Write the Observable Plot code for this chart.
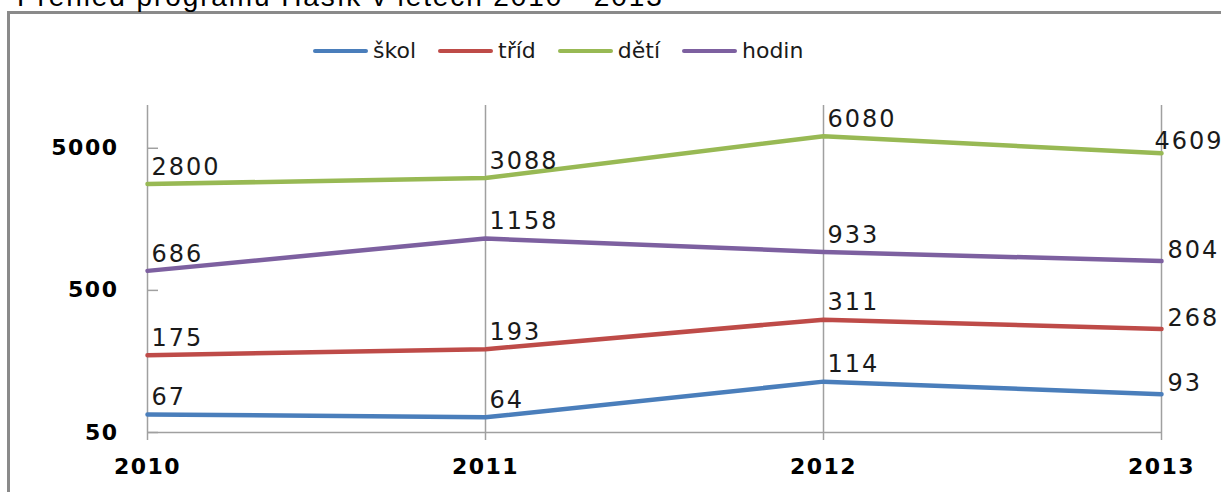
<!DOCTYPE html>
<html><head><meta charset="utf-8">
<script src="https://cdn.jsdelivr.net/npm/d3@7"></script>
<script src="https://cdn.jsdelivr.net/npm/@observablehq/plot@0.6"></script>
<style>
body{margin:0;background:#fff;overflow:hidden}
#wrap{position:relative;width:1221px;height:492px;overflow:hidden;background:#fff}
#frame{position:absolute;left:7px;top:11px;width:1400px;height:600px;border:3px solid #8a8a8a;box-sizing:border-box}
#title{position:absolute;left:17px;top:-17px;font-family:"Liberation Sans",Arial,sans-serif;font-size:28px;letter-spacing:1.9px;white-space:nowrap;line-height:28px;color:#000}
#legend{position:absolute;left:313px;top:38px;display:flex;align-items:center;font-family:"DejaVu Sans",sans-serif;font-size:22px;line-height:26px;color:#1a1a1a}
.item{display:flex;align-items:center;margin-right:22px}
.sw{width:55px;height:4px;border-radius:2px;margin-right:5px}
#chart{position:absolute;left:0;top:0}
.lbl text{letter-spacing:2px}
.ylbl text{letter-spacing:1.5px}
g[aria-label="x-axis tick label"] text{letter-spacing:1.5px}
</style>
</head><body>
<div id="wrap">
  <div id="frame"></div>
  <div id="title">Přehled programu Hasík v letech 2010 - 2013</div>
  <div id="chart"></div>
  <div id="legend"></div>
</div>
<script>
const years = [2010, 2011, 2012, 2013];
const series = ["škol", "tříd", "dětí", "hodin"];
const skol = [67, 64, 114, 93];
const trid = [175, 193, 311, 268];
const deti = [2800, 3088, 6080, 4609];
const hodin = [686, 1158, 933, 804];
const colors = ["#4A7EBB", "#BE4B48", "#98B954", "#7D60A0"];
const yTicks = [50, 500, 5000];

const valuesBySeries = [skol, trid, deti, hodin];
const data = [];
series.forEach((s, i) => years.forEach((yr, j) => data.push({series: s, year: yr, value: valuesBySeries[i][j]})));

const labelFont = "DejaVu Sans";
const lastYear = years[years.length - 1];
const topSeries = series[2];

const chart = Plot.plot({
  width: 1221,
  height: 492,
  marginTop: 105,
  marginBottom: 60,
  marginLeft: 147,
  marginRight: 60,
  style: {background: "transparent", overflow: "visible", fontFamily: labelFont},
  x: {type: "linear", domain: [2010, 2013], label: null},
  y: {type: "log", domain: [50, 10000], label: null},
  color: {domain: series, range: colors},
  marks: [
    Plot.ruleX(years, {stroke: "#a0a0a0", strokeWidth: 1.5}),
    Plot.ruleY([50], {stroke: "#a0a0a0", strokeWidth: 1.5}),
    Plot.axisX({ticks: years, tickFormat: d => String(d), label: null, tickSize: 8, tickPadding: 18, stroke: "#a0a0a0", strokeWidth: 1.5, fill: "#000", fontSize: 22, fontWeight: "bold", fontFamily: labelFont}),
    Plot.axisY({ticks: yTicks, tickFormat: () => "", label: null, tickSize: -11, stroke: "#a0a0a0", strokeWidth: 1.5}),
    Plot.text(yTicks, {y: d => d, frameAnchor: "left", dx: -29, textAnchor: "end", text: d => String(d), fill: "#000", fontSize: 22, fontWeight: "bold", fontFamily: labelFont, className: "ylbl"}),
    Plot.line(data, {x: "year", y: "value", z: "series", stroke: "series", strokeWidth: 4.5}),
    Plot.text(data.filter(d => d.year < lastYear), {x: "year", y: "value", text: d => String(d.value), textAnchor: "start", dx: 4, dy: -17, fontSize: 24, fill: "#1a1a1a", fontFamily: labelFont, className: "lbl"}),
    Plot.text(data.filter(d => d.year === lastYear && d.series !== topSeries), {x: "year", y: "value", text: d => String(d.value), textAnchor: "start", dx: 6, dy: -11, fontSize: 24, fill: "#1a1a1a", fontFamily: labelFont, className: "lbl"}),
    Plot.text(data.filter(d => d.year === lastYear && d.series === topSeries), {x: "year", y: "value", text: d => String(d.value), textAnchor: "start", dx: -7, dy: -12, fontSize: 24, fill: "#1a1a1a", fontFamily: labelFont, className: "lbl"})
  ]
});
document.getElementById("chart").appendChild(chart);

const legend = d3.select("#legend");
series.forEach((s, i) => {
  const item = legend.append("div").attr("class", "item");
  item.append("div").attr("class", "sw").style("background", colors[i]);
  item.append("span").text(s);
});
</script>
</body></html>
